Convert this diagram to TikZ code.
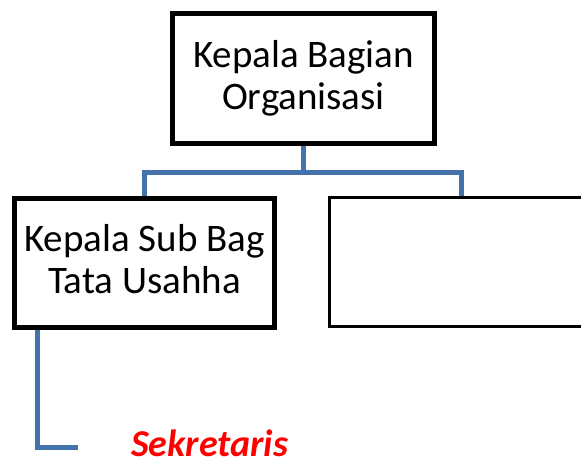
\documentclass[tikz,border=0pt]{standalone}
\usepackage{fontspec}
\setmainfont{Carlito}
\definecolor{linkblue}{RGB}{68,114,170}
\definecolor{sekred}{RGB}{255,0,0}

\tikzset{
	box/.style={draw=black, line width=5pt, minimum width=260pt, minimum height=129pt, align=center, font=\fontsize{39}{42}\selectfont, text depth=8pt, inner sep=0pt},
	thinbox/.style={box, line width=3pt},
	link/.style={linkblue, line width=5pt}
}

\begin{document}
\begin{tikzpicture}[x=1pt,y=-1pt]
\clip (0,0) rectangle (581,462);
\fill[white] (0,0) rectangle (581,462);

\node (kabag) at (303.5,78.5) [box, minimum width=262pt, minimum height=130pt] {Kepala Bagian\\Organisasi};
\node (kasubag) at (144.5,263) [box] {Kepala Sub Bag\\Tata Usahha};
\node (kosong) at (461,262.5) [thinbox, minimum width=264pt] {};

\coordinate (cabang) at (303.5,173);
\coordinate (ujung) at (78,447);

\draw [link] (kabag.south) -- (cabang);
\draw [link] (kasubag.north) |- (cabang) -| (kosong.north);
\draw [link] ([xshift=25.5pt]kasubag.south west) |- (ujung);

\node (sekretaris) at (131,456) [anchor=base west, inner sep=0pt, text=sekred, font=\fontsize{38}{38}\selectfont\bfseries\itshape] {Sekretaris};
\end{tikzpicture}
\end{document}
